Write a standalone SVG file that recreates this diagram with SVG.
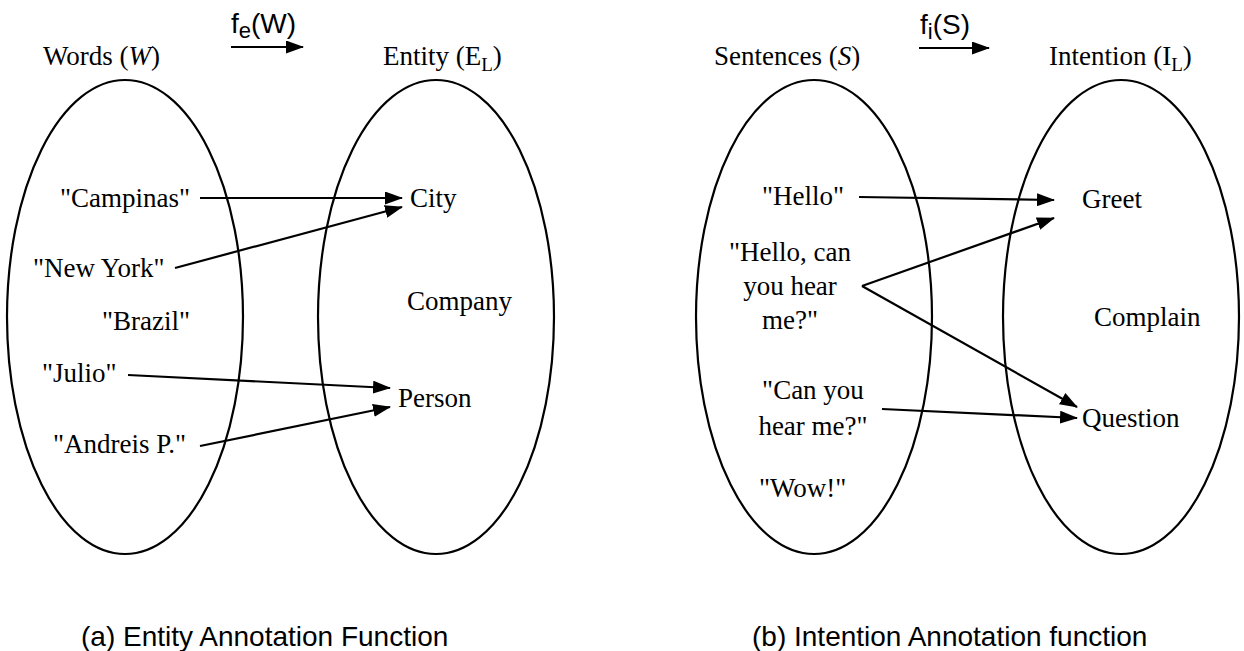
<svg xmlns="http://www.w3.org/2000/svg" width="1244" height="651" viewBox="0 0 1244 651">
  <style>
    .set { fill: none; stroke: #000; stroke-width: 2.2; }
    .lbl { font-family: "Liberation Serif", "Times New Roman", serif; font-size: 27px; fill: #000; }
    .fn { font-family: "Liberation Sans", Arial, sans-serif; font-size: 28px; fill: #000; }
    .cap { font-family: "Liberation Sans", Arial, sans-serif; font-size: 28px; fill: #000; }
    .link { fill: none; stroke: #000; stroke-width: 2.2; marker-end: url(#head); }
  </style>
  <defs>
    <marker id="head" markerUnits="userSpaceOnUse" markerWidth="18" markerHeight="13" refX="17" refY="6.5" orient="auto">
      <path d="M0,0 L18,6.5 L0,13 Z" fill="#000"/>
    </marker>
  </defs>

  <rect width="1244" height="651" fill="#fff"/>

  <!-- (a) entity annotation: word set and entity set -->
  <g id="words-set">
    <ellipse class="set" cx="125" cy="317" rx="118" ry="237"/>
    <text class="lbl" x="43" y="65">Words (<tspan font-style="italic">W</tspan>)</text>
  </g>
  <g id="entity-set">
    <ellipse class="set" cx="436" cy="317" rx="118" ry="237"/>
    <text class="lbl" x="383" y="65">Entity (E<tspan font-size="19" dy="6">L</tspan><tspan dy="-6">)</tspan></text>
  </g>
  <g id="fe-label">
    <text class="fn" x="231" y="33">f<tspan font-size="22" dy="5">e</tspan><tspan dy="-5">(W)</tspan></text>
  </g>

  <g id="w-campinas"><text class="lbl" x="60" y="207">"Campinas"</text></g>
  <g id="w-newyork"><text class="lbl" x="33" y="277">"New York"</text></g>
  <g id="w-brazil"><text class="lbl" x="102" y="330">"Brazil"</text></g>
  <g id="w-julio"><text class="lbl" x="42" y="382">"Julio"</text></g>
  <g id="w-andreis"><text class="lbl" x="53" y="453">"Andreis P."</text></g>

  <g id="e-city"><text class="lbl" x="410" y="207">City</text></g>
  <g id="e-company"><text class="lbl" x="407" y="310">Company</text></g>
  <g id="e-person"><text class="lbl" x="398" y="407">Person</text></g>

  <!-- (b) intention annotation: sentence set and intention set -->
  <g id="sentences-set">
    <ellipse class="set" cx="814" cy="317" rx="118" ry="237"/>
    <text class="lbl" x="714" y="65">Sentences (<tspan font-style="italic">S</tspan>)</text>
  </g>
  <g id="intention-set">
    <ellipse class="set" cx="1121" cy="317" rx="118" ry="237"/>
    <text class="lbl" x="1049" y="65">Intention (I<tspan font-size="19" dy="6">L</tspan><tspan dy="-6">)</tspan></text>
  </g>
  <g id="fi-label">
    <text class="fn" x="920" y="34">f<tspan font-size="22" dy="5">i</tspan><tspan dy="-5">(S)</tspan></text>
  </g>

  <g id="s-hello"><text class="lbl" x="762" y="205">"Hello"</text></g>
  <g id="s-hello-can">
    <text class="lbl" text-anchor="middle" x="790" y="261">"Hello, can</text>
    <text class="lbl" text-anchor="middle" x="790" y="295">you hear</text>
    <text class="lbl" text-anchor="middle" x="790" y="329">me?"</text>
  </g>
  <g id="s-can-you">
    <text class="lbl" text-anchor="middle" x="813" y="399">"Can you</text>
    <text class="lbl" text-anchor="middle" x="813" y="435">hear me?"</text>
  </g>
  <g id="s-wow"><text class="lbl" x="759" y="497">"Wow!"</text></g>

  <g id="i-greet"><text class="lbl" x="1082" y="208">Greet</text></g>
  <g id="i-complain"><text class="lbl" x="1094" y="326">Complain</text></g>
  <g id="i-question"><text class="lbl" x="1082" y="427">Question</text></g>

  <!-- mapping arrows -->
  <g id="connectors">
    <line class="link" x1="231" y1="47" x2="303" y2="47"/>
    <line class="link" x1="919" y1="48" x2="989" y2="48"/>

    <line class="link" x1="200" y1="198" x2="402" y2="198"/>
    <line class="link" x1="175" y1="268" x2="402" y2="207"/>
    <line class="link" x1="128" y1="375" x2="390" y2="388"/>
    <line class="link" x1="200" y1="446" x2="390" y2="407"/>

    <line class="link" x1="859" y1="197" x2="1054" y2="200"/>
    <line class="link" x1="862" y1="286" x2="1054" y2="218"/>
    <line class="link" x1="862" y1="286" x2="1077" y2="407"/>
    <line class="link" x1="882" y1="409" x2="1077" y2="418"/>
  </g>

  <!-- captions -->
  <text class="cap" x="81" y="646">(a) Entity Annotation Function</text>
  <text class="cap" x="752" y="646">(b) Intention Annotation function</text>
</svg>
